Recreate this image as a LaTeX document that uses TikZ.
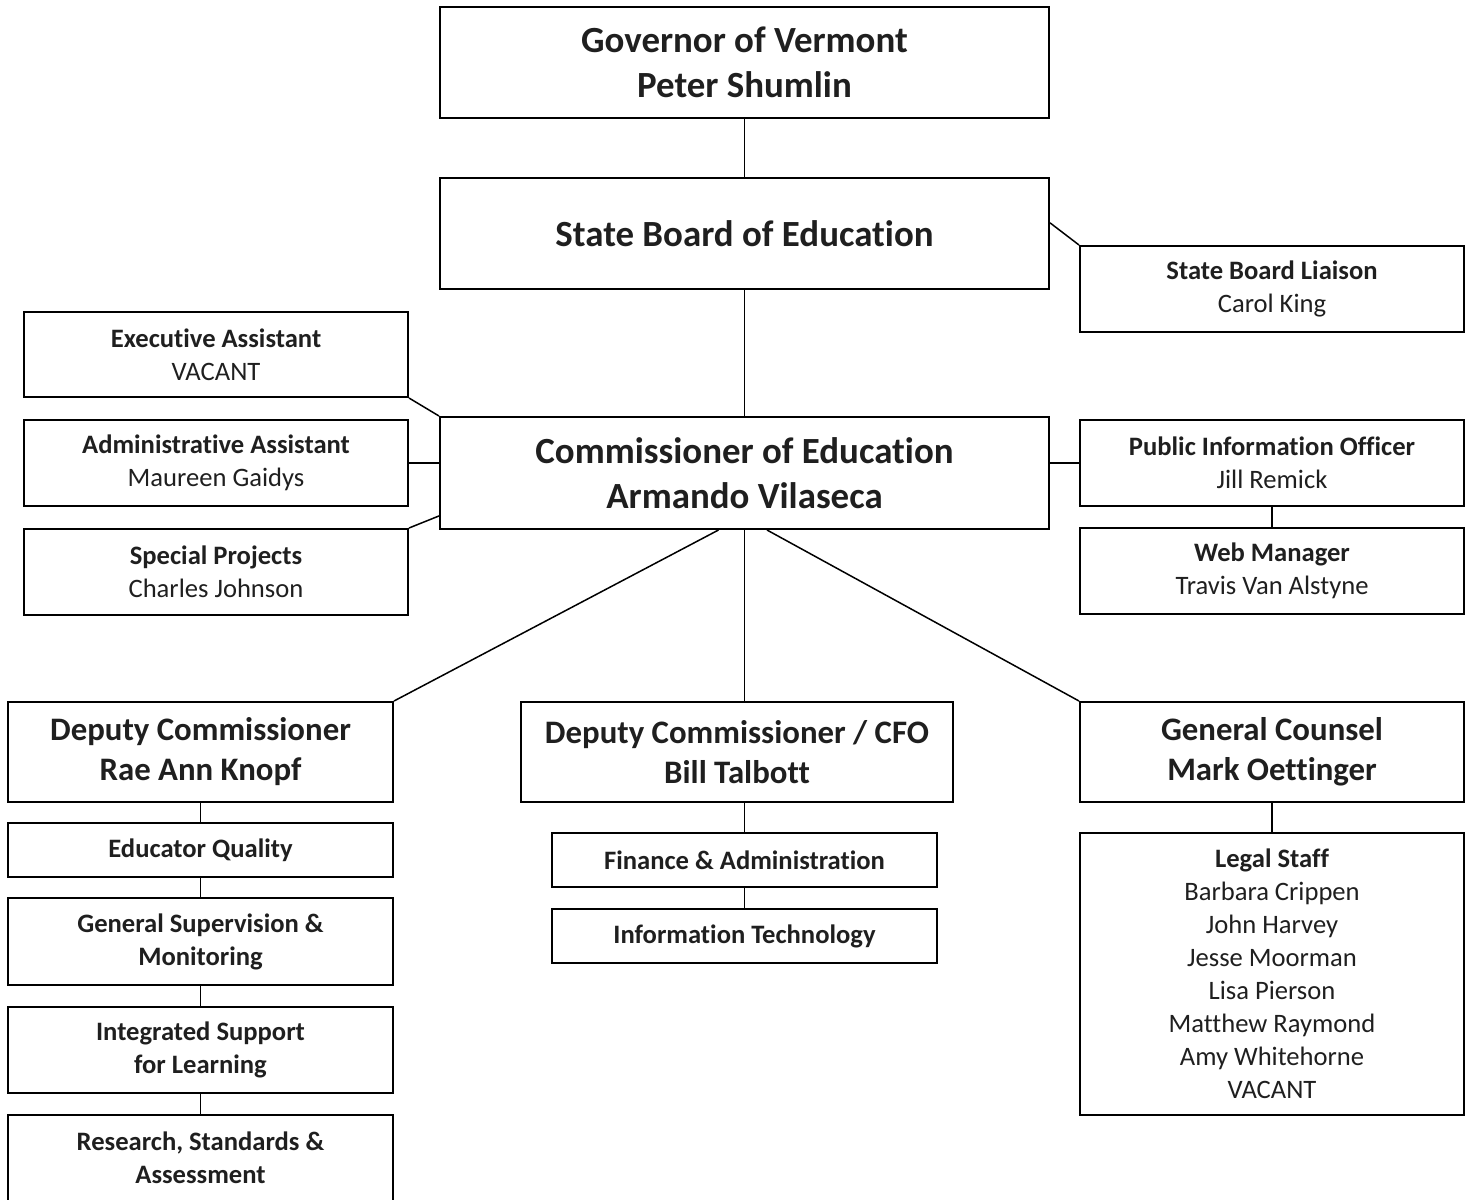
\documentclass[tikz,border=0pt]{standalone}
\usepackage{fontspec}
\setmainfont{Carlito}[Ligatures=CommonOff]
\begin{document}
\begin{tikzpicture}[x=0.5pt,y=-0.5pt,
    box/.style={draw,line width=1pt,inner sep=0pt,align=center,text=black!88},
    topbox/.style={box,minimum width=304.5pt,minimum height=55.5pt,font=\fontsize{18.45}{22.5}\selectfont\bfseries},
    deptbox/.style={box,minimum width=192.5pt,minimum height=50pt,font=\fontsize{16.4}{20}\selectfont\bfseries},
    sidebox/.style={box,minimum width=192pt,minimum height=43pt,font=\fontsize{13.3}{16.5}\selectfont},
    subbox/.style={box,minimum width=192.5pt,minimum height=27pt,font=\fontsize{13.3}{16.5}\selectfont\bfseries}]
  \useasboundingbox (0,0) rectangle (1470,1199);
  \draw
    (744.5,62.5) node[topbox] (gov){Governor of Vermont\\Peter Shumlin}
    (744.5,233.5) node[topbox] (sbe){State Board of Education}
    (744.5,473) node[topbox,minimum height=56pt] (comm){Commissioner of Education\\Armando Vilaseca}
    (1272,289) node[sidebox] (liaison){{\bfseries State Board Liaison}\\Carol King}
    (216,354.5) node[sidebox,minimum height=42.5pt] (exec){{\bfseries Executive Assistant}\\VACANT}
    (216,463) node[sidebox] (admin){{\bfseries Administrative Assistant}\\Maureen Gaidys}
    (216,572) node[sidebox] (special){{\bfseries Special Projects}\\Charles Johnson}
    (1272,463) node[sidebox] (pio){{\bfseries Public Information Officer}\\Jill Remick}
    (1272,571) node[sidebox] (web){{\bfseries Web Manager}\\Travis Van Alstyne}
    (200.5,752) node[deptbox] (deputy){Deputy Commissioner\\Rae Ann Knopf}
    (737,752) node[deptbox,minimum width=216pt] (cfo){Deputy Commissioner / CFO\\Bill Talbott}
    (1272,752) node[deptbox,minimum width=192pt] (counsel){General Counsel\\Mark Oettinger}
    (200.5,850) node[subbox] (quality){Educator Quality}
    (200.5,941.5) node[subbox,minimum height=43.5pt] (supervision){General Supervision \&\\Monitoring}
    (200.5,1050) node[subbox,minimum height=43pt] (support){Integrated Support\\for Learning}
    (200.5,1158) node[subbox,minimum height=43pt] (research){Research, Standards \&\\Assessment}
    (744.5,860) node[subbox] (finance){Finance \& Administration}
    (744.5,936) node[subbox] (tech){Information Technology}
    (1272,974) node[sidebox,minimum height=141pt] (legal){{\bfseries Legal Staff}\\Barbara Crippen\\John Harvey\\Jesse Moorman\\Lisa Pierson\\Matthew Raymond\\Amy Whitehorne\\VACANT};
  \begin{scope}[-,line width=0.75pt]
    \draw (gov) to (sbe);
    \draw (sbe.2) to (liaison.north west);
    \draw (sbe) to (comm);
    \draw (exec.south east) to (comm.north west);
    \draw (admin.east) to (admin.east -| comm.west);
    \draw (special.north east) to (comm.188);
    \draw (pio.west) to (pio.west -| comm.east);
    \draw (pio) to (web);
    \draw ([xshift=-13pt]comm.south) to (deputy.north east);
    \draw (comm.south) to (comm.south |- cfo.north);
    \draw ([xshift=11.25pt]comm.south) to (counsel.north west);
    \draw (deputy) to (quality);
    \draw (quality) to (supervision);
    \draw (supervision) to (support);
    \draw (support) to (research);
    \draw (finance.north |- cfo.south) to (finance);
    \draw (finance) to (tech);
    \draw (counsel) to (legal);
  \end{scope}
\end{tikzpicture}
\end{document}
